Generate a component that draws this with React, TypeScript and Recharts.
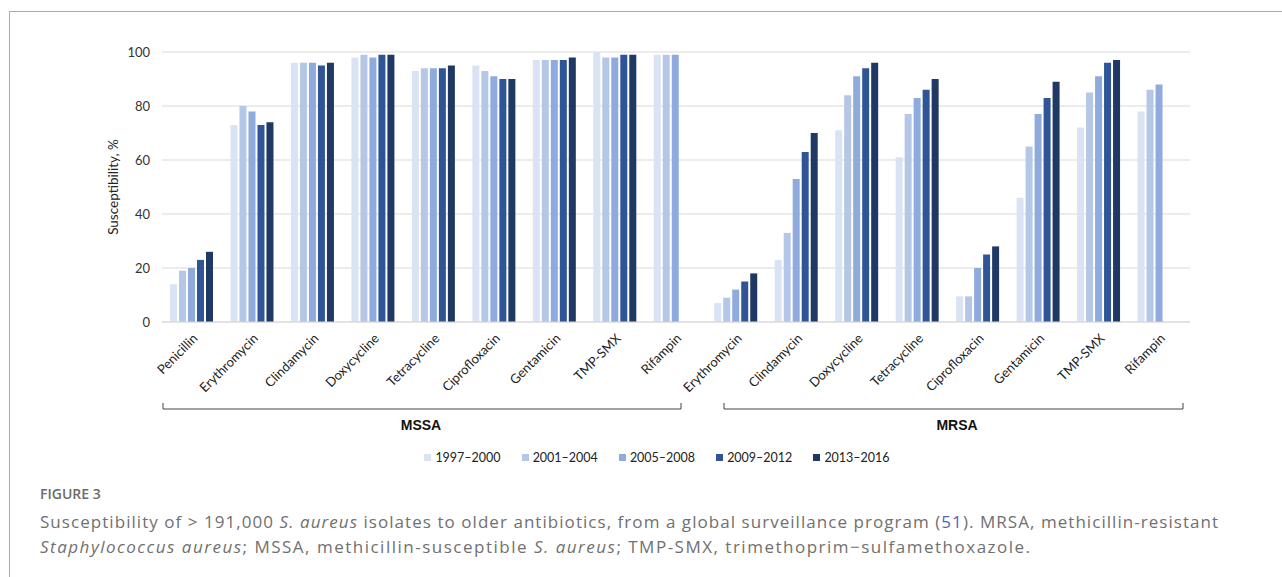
import { BarChart, Bar, XAxis, YAxis, CartesianGrid, Legend } from 'recharts';

const categories = [
  'Penicillin', 'Erythromycin', 'Clindamycin', 'Doxycycline', 'Tetracycline',
  'Ciprofloxacin', 'Gentamicin', 'TMP-SMX', 'Rifampin',
  'Erythromycin', 'Clindamycin', 'Doxycycline', 'Tetracycline',
  'Ciprofloxacin', 'Gentamicin', 'TMP-SMX', 'Rifampin',
];

const p1997 = [14, 73, 96, 98, 93, 95, 97, 100, 99, 7, 23, 71, 61, 9.5, 46, 72, 78];
const p2001 = [19, 80, 96, 99, 94, 93, 97, 98, 99, 9, 33, 84, 77, 9.5, 65, 85, 86];
const p2005 = [20, 78, 96, 98, 94, 91, 97, 98, 99, 12, 53, 91, 83, 20, 77, 91, 88];
const p2009 = [23, 73, 95, 99, 94, 90, 97, 99, null, 15, 63, 94, 86, 25, 83, 96, null];
const p2013 = [26, 74, 96, 99, 95, 90, 98, 99, null, 18, 70, 96, 90, 28, 89, 97, null];

const yTicks = [0, 20, 40, 60, 80, 100];

const series = [
  { key: 'p1997', label: '1997–2000', color: '#dae3f3' },
  { key: 'p2001', label: '2001–2004', color: '#b4c7e7' },
  { key: 'p2005', label: '2005–2008', color: '#8faadc' },
  { key: 'p2009', label: '2009–2012', color: '#2f5597' },
  { key: 'p2013', label: '2013–2016', color: '#203864' },
];

const data = categories.map((name, i) => ({
  name,
  p1997: p1997[i],
  p2001: p2001[i],
  p2005: p2005[i],
  p2009: p2009[i],
  p2013: p2013[i],
}));

const chartFont = 'Lato, "Open Sans", sans-serif';

const AngledTick = ({ x, y, payload }: any) => (
  <g transform={`translate(${x + 3},${y + 12})`}>
    <text transform="rotate(-45)" textAnchor="end" dy="0.35em" fontSize={13} fill="#222" fontFamily={chartFont}>
      {payload.value}
    </text>
  </g>
);

const LegendRow = () => (
  <div style={{ display: 'flex', justifyContent: 'center', paddingLeft: 32, fontFamily: chartFont, fontSize: 12.5, color: '#222' }}>
    {series.map(s => (
      <div key={s.key} style={{ display: 'flex', alignItems: 'center', margin: '0 10.5px' }}>
        <span style={{ width: 7, height: 7, background: s.color, marginRight: 4, display: 'inline-block' }} />
        <span>{s.label}</span>
      </div>
    ))}
  </div>
);

export default function App() {
  return (
    <div style={{ position: 'absolute', left: 0, top: 0, width: 1282, height: 577, background: '#fff', overflow: 'hidden' }}>
      <div style={{ position: 'absolute', left: 9, top: 11, width: 1300, height: 600, borderTop: '1px solid #aaa', borderLeft: '1px solid #aaa' }} />
      <div style={{ position: 'absolute', left: 0, top: 0 }}>
        <BarChart
          width={1282}
          height={577}
          data={data}
          margin={{ top: 52, right: 92, left: 102, bottom: 109 }}
          barCategoryGap={8}
          barGap={2}
        >
          <CartesianGrid vertical={false} stroke="#d9d9d9" />
          <XAxis
            dataKey="name"
            interval={0}
            tickLine={false}
            tickSize={0}
            stroke="#d9d9d9"
            height={128}
            tick={<AngledTick />}
          />
          <YAxis
            domain={[0, 100]}
            ticks={yTicks}
            width={60}
            axisLine={false}
            tickLine={false}
            tickMargin={6}
            tick={{ fontSize: 13, fill: '#333', fontFamily: chartFont }}
            label={{ value: 'Susceptibility, %', angle: -90, position: 'center', dx: -19, style: { fontSize: 13.5, fill: '#222', fontFamily: chartFont } }}
          />
          <Legend verticalAlign="bottom" height={18} wrapperStyle={{ left: 0, width: 1282 }} content={<LegendRow />} />
          {series.map(s => (
            <Bar key={s.key} dataKey={s.key} name={s.label} fill={s.color} isAnimationActive={false} />
          ))}
        </BarChart>
      </div>
      <svg width={1282} height={577} style={{ position: 'absolute', left: 0, top: 0, pointerEvents: 'none' }}>
        <path d="M163,403 V409 H681 V403" fill="none" stroke="#444" strokeWidth={1} />
        <path d="M724,403 V409 H1183 V403" fill="none" stroke="#444" strokeWidth={1} />
        <text x={421} y={430} textAnchor="middle" fontSize={14} fontWeight="bold" fontFamily='"Liberation Sans", Arial, sans-serif' fill="#111">MSSA</text>
        <text x={957} y={430} textAnchor="middle" fontSize={14} fontWeight="bold" fontFamily='"Liberation Sans", Arial, sans-serif' fill="#111">MRSA</text>
      </svg>
      <div style={{ position: 'absolute', left: 40, top: 485, fontFamily: '"Open Sans", sans-serif', color: '#6b6b6b' }}>
        <div style={{ fontSize: 14, fontWeight: 600, lineHeight: '18px' }}>FIGURE 3</div>
        <div style={{ fontSize: 17, letterSpacing: 1.05, lineHeight: '25px', marginTop: 6, color: '#707070', whiteSpace: 'nowrap' }}>
          Susceptibility of &gt; 191,000 <i>S. aureus</i> isolates to older antibiotics, from a global surveillance program (<span style={{ color: '#5a5fb8' }}>51</span>). MRSA, methicillin-resistant
          <br />
          <span style={{ letterSpacing: 1.5 }}>
            <i>Staphylococcus aureus</i>; MSSA, methicillin-susceptible <i>S. aureus</i>; TMP-SMX, trimethoprim−sulfamethoxazole.
          </span>
        </div>
      </div>
    </div>
  );
}
